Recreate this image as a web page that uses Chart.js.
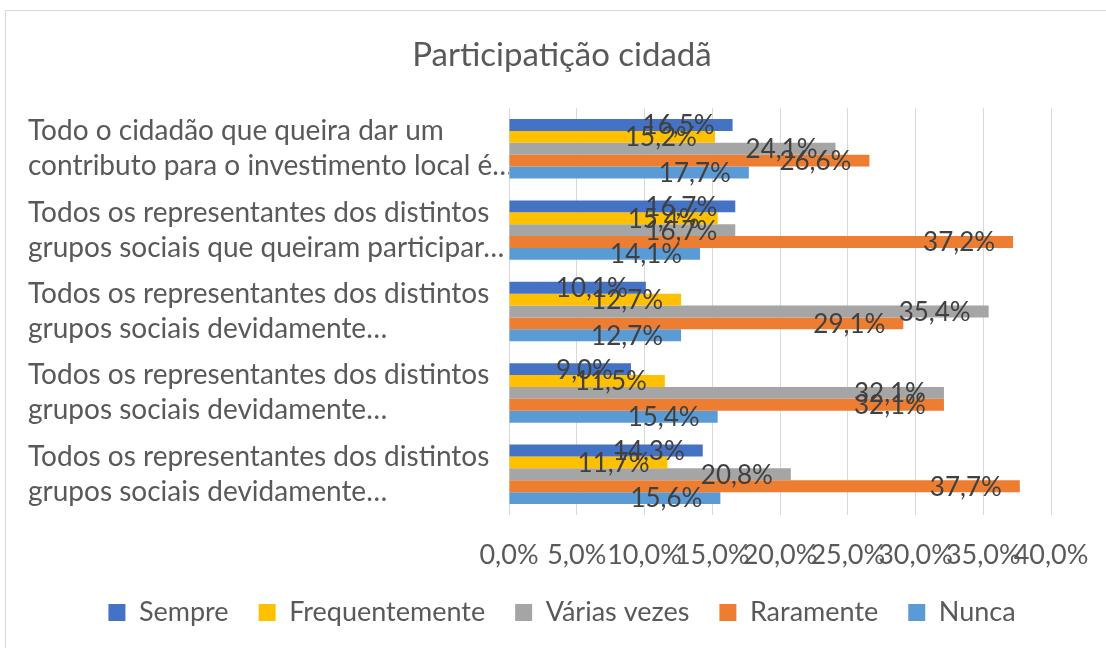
<!DOCTYPE html>
<html>
<head>
<meta charset="utf-8">
<script src="https://cdn.jsdelivr.net/npm/chart.js@4"></script>
<style>
  html, body { margin: 0; padding: 0; background: #fff; }
  #wrap { position: relative; width: 1106px; height: 648px; }
  #frame { position: absolute; left: 5px; top: 10px; width: 1110px; height: 650px; border: 1px solid #d9d9d9; box-sizing: border-box; }
  canvas { position: absolute; left: 0; top: 0; }
</style>
</head>
<body>
<div id="wrap">
  <div id="frame"></div>
  <canvas id="chart" width="1106" height="648"></canvas>
</div>
<script>
// categorias (de cima para baixo)
const categories = [
  ['Todo o cidadão que queira dar um', 'contributo para o investimento local é…'],
  ['Todos os representantes dos distintos', 'grupos sociais que queiram participar…'],
  ['Todos os representantes dos distintos', 'grupos sociais devidamente…'],
  ['Todos os representantes dos distintos', 'grupos sociais devidamente…'],
  ['Todos os representantes dos distintos', 'grupos sociais devidamente…']
];

const sempre         = [16.5, 16.7, 10.1, 9.0, 14.3];
const frequentemente = [15.2, 15.4, 12.7, 11.5, 11.7];
const variasVezes    = [24.1, 16.7, 35.4, 32.1, 20.8];
const raramente      = [26.6, 37.2, 29.1, 32.1, 37.7];
const nunca          = [17.7, 14.1, 12.7, 15.4, 15.6];

const xTicks = [0, 5, 10, 15, 20, 25, 30, 35, 40];

const fmt = v => v.toFixed(1).replace('.', ',') + '%';

// rótulos de dados no fim de cada barra
const barLabels = {
  id: 'barLabels',
  afterDatasetsDraw(chart) {
    const ctx = chart.ctx;
    ctx.save();
    ctx.font = '26px Lato';
    ctx.fillStyle = '#404040';
    ctx.textAlign = 'right';
    ctx.textBaseline = 'middle';
    chart.data.datasets.forEach((ds, i) => {
      chart.getDatasetMeta(i).data.forEach((bar, j) => {
        ctx.fillText(fmt(ds.data[j]), bar.x - 18, bar.y + 1);
      });
    });
    ctx.restore();
  }
};

new Chart(document.getElementById('chart'), {
  type: 'bar',
  data: {
    labels: categories,
    datasets: [
      { label: 'Sempre', data: sempre, backgroundColor: '#4472C4' },
      { label: 'Frequentemente', data: frequentemente, backgroundColor: '#FFC000' },
      { label: 'Várias vezes', data: variasVezes, backgroundColor: '#A5A5A5' },
      { label: 'Raramente', data: raramente, backgroundColor: '#ED7D31' },
      { label: 'Nunca', data: nunca, backgroundColor: '#5B9BD5' }
    ]
  },
  options: {
    indexAxis: 'y',
    responsive: false,
    animation: false,
    datasets: { bar: { barPercentage: 1, categoryPercentage: 0.73 } },
    layout: { padding: { left: 28, right: 10, top: 0, bottom: 12 } },
    plugins: {
      title: {
        display: true,
        text: 'Participatição cidadã',
        color: '#595959',
        font: { family: 'Lato', size: 33, weight: 'normal' },
        padding: { top: 36, bottom: 32.5 }
      },
      legend: {
        position: 'bottom',
        labels: {
          color: '#595959',
          font: { family: 'Lato', size: 27 },
          boxWidth: 17, boxHeight: 17,
          padding: 30
        }
      },
      tooltip: { enabled: false }
    },
    scales: {
      x: {
        min: 0, max: 40,
        afterBuildTicks: s => { s.ticks = xTicks.map(v => ({ value: v })); },
        afterFit: s => { s.paddingRight = 55; s.paddingLeft = 0; s.height = 54; },
        ticks: {
          callback: v => fmt(v),
          color: '#595959',
          font: { family: 'Lato', size: 27 },
          padding: 24,
          maxRotation: 0, autoSkip: false
        },
        grid: { color: '#d9d9d9', drawTicks: false },
        border: { display: false }
      },
      y: {
        afterFit: s => { s.width = 481; },
        ticks: {
          crossAlign: 'far',
          color: '#595959',
          font: { family: 'Lato', size: 28, lineHeight: 1.25 },
          autoSkip: false
        },
        grid: { display: false },
        border: { display: false }
      }
    }
  },
  plugins: [barLabels]
});
</script>
</body>
</html>
